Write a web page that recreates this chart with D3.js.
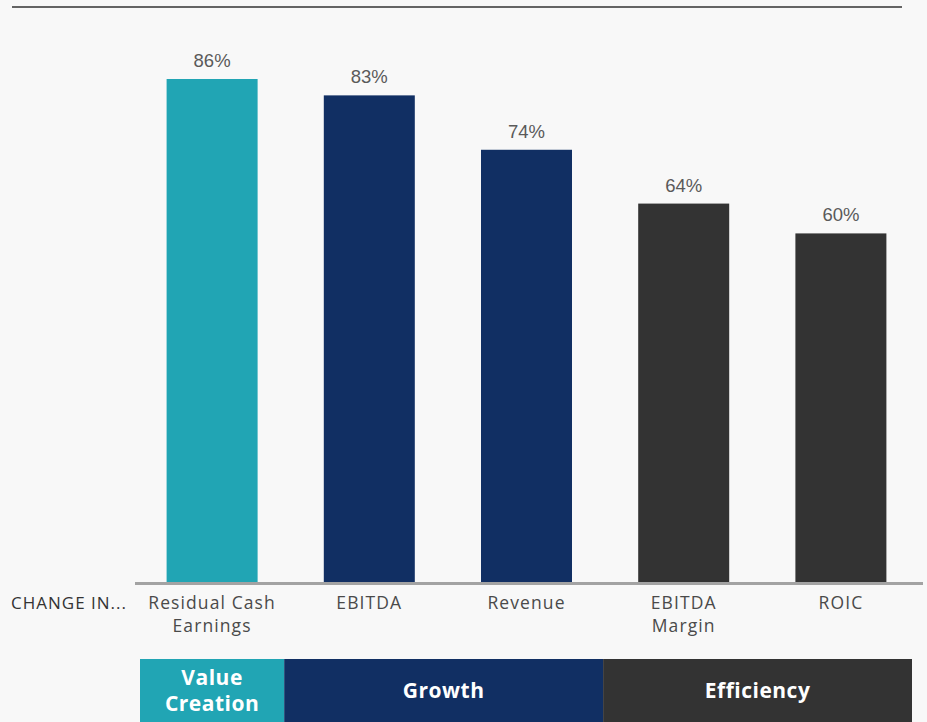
<!DOCTYPE html>
<html>
<head>
<meta charset="utf-8">
<title>Change in metrics</title>
<script src="https://d3js.org/d3.v7.min.js"></script>
<style>
  html, body { margin: 0; padding: 0; background: #f8f8f8; }
  svg { display: block; }
</style>
</head>
<body>
<div id="chart"></div>
<script>
// data
var categories = ["Residual Cash|Earnings", "EBITDA", "Revenue", "EBITDA|Margin", "ROIC"];
var values = [86, 83.2, 73.9, 64.7, 59.6];
var valueLabels = ["86%", "83%", "74%", "64%", "60%"];
var groupOf = ["Value Creation", "Growth", "Growth", "Efficiency", "Efficiency"];
var groups = ["Value|Creation", "Growth", "Efficiency"];
var groupColors = ["#21a5b4", "#112f63", "#333333"];

var w = 927, h = 722;
var baseY = 582;

var svg = d3.select("#chart").append("svg")
  .attr("width", w)
  .attr("height", h);

svg.append("rect").attr("width", w).attr("height", h).attr("fill", "#f8f8f8");

// top rule
svg.append("line")
  .attr("x1", 12).attr("x2", 902)
  .attr("y1", 7).attr("y2", 7)
  .attr("stroke", "#333").attr("stroke-width", 1.5);

var x = d3.scaleBand()
  .domain(d3.range(categories.length))
  .range([133.5, 919.5]);

var y = d3.scaleLinear()
  .domain([0, 86])
  .range([baseY, 79]);

var barW = 91;
var groupNames = groups.map(function(s){ return s.replace("|", " "); });
var colorFor = function(i) {
  return groupColors[groupNames.indexOf(groupOf[i])];
};

svg.selectAll("rect.bar")
  .data(values)
  .enter()
  .append("rect")
  .attr("class", "bar")
  .attr("x", function(d, i){ return x(i) + x.bandwidth()/2 - barW/2; })
  .attr("y", function(d){ return y(d); })
  .attr("width", barW)
  .attr("height", function(d){ return baseY - y(d) + 1; })
  .attr("fill", function(d, i){ return colorFor(i); });

svg.selectAll("text.val")
  .data(values)
  .enter()
  .append("text")
  .attr("class", "val")
  .attr("x", function(d, i){ return x(i) + x.bandwidth()/2; })
  .attr("y", function(d){ return y(d) - 12; })
  .attr("text-anchor", "middle")
  .attr("font-family", "Liberation Sans, Arial, sans-serif")
  .attr("font-size", 18.5)
  .attr("fill", "#5a5a5a")
  .text(function(d, i){ return valueLabels[i]; });

// axis line
svg.append("line")
  .attr("x1", 135).attr("x2", 923)
  .attr("y1", baseY + 1.5).attr("y2", baseY + 1.5)
  .attr("stroke", "#a3a3a3").attr("stroke-width", 3);

// category labels
var catG = svg.selectAll("text.cat")
  .data(categories)
  .enter()
  .append("text")
  .attr("class", "cat")
  .attr("text-anchor", "middle")
  .attr("font-family", "Open Sans, sans-serif")
  .attr("font-size", 17.5)
  .attr("letter-spacing", 1.1)
  .attr("fill", "#4a4a4a");
catG.each(function(d, i){
  var t = d3.select(this);
  d.split("|").forEach(function(line, k){
    t.append("tspan")
      .attr("x", x(i) + x.bandwidth()/2)
      .attr("y", 609 + k * 23)
      .text(line);
  });
});

svg.append("text")
  .attr("x", 127).attr("y", 609)
  .attr("text-anchor", "end")
  .attr("font-family", "Open Sans, sans-serif")
  .attr("font-size", 17)
  .attr("letter-spacing", 1)
  .attr("fill", "#333")
  .text("CHANGE IN...");

// group boxes
var edgeShift = [[6.5, -6.5], [-6.5, -2], [-2, -7.5]];
groups.forEach(function(g, gi){
  var idx = d3.range(categories.length).filter(function(i){ return groupOf[i] === groupNames[gi]; });
  var x0 = x(idx[0]) + edgeShift[gi][0];
  var x1 = x(idx[idx.length - 1]) + x.bandwidth() + edgeShift[gi][1];
  svg.append("rect")
    .attr("x", x0).attr("y", 659)
    .attr("width", x1 - x0).attr("height", h - 659)
    .attr("fill", groupColors[gi]);
  var lines = g.split("|");
  var t = svg.append("text")
    .attr("text-anchor", "middle")
    .attr("font-family", "Open Sans, sans-serif")
    .attr("font-weight", "bold")
    .attr("font-size", 21)
    .attr("letter-spacing", 0.5)
    .attr("fill", "#fff");
  lines.forEach(function(line, k){
    t.append("tspan")
      .attr("x", (x0 + x1) / 2)
      .attr("y", 698 - (lines.length - 1) * 13 + k * 26)
      .text(line);
  });
});
</script>
</body>
</html>
